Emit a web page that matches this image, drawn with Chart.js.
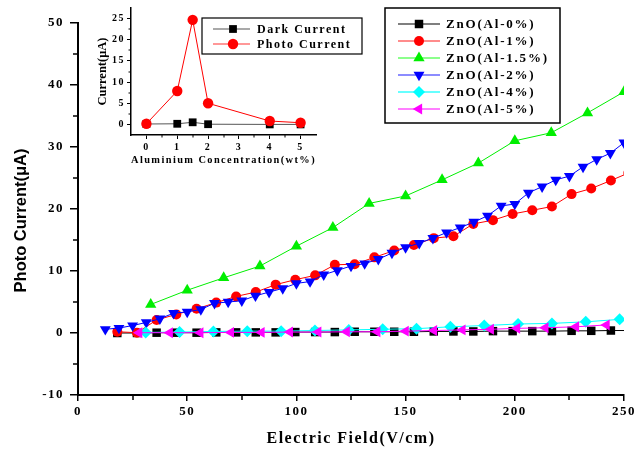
<!DOCTYPE html>
<html><head><meta charset="utf-8">
<script src="https://cdn.jsdelivr.net/npm/chart.js@4/dist/chart.umd.min.js"></script>
<style>
html,body{margin:0;padding:0;background:#fff;}
#wrap{position:relative;width:634px;height:450px;overflow:hidden;}
#main{position:absolute;left:0;top:0;}
#inset{position:absolute;left:90px;top:0;}
</style></head><body>
<div id="wrap"><canvas id="main" width="634" height="450"></canvas><canvas id="inset" width="280" height="175"></canvas></div>
<script>
// ---------- main chart data ----------
const fieldAl0   = [18,27,36,45,54.3,63.3,72.4,81.4,90.5,99.5,108.6,117.6,126.7,135.7,144.8,153.8,162.9,171.9,181,190,199,208,217,226,235,244,252];
const currentAl0 = [0,0,0.05,0.05,0.05,0.1,0.1,0.1,0.1,0.15,0.15,0.15,0.2,0.2,0.2,0.2,0.25,0.25,0.25,0.3,0.3,0.3,0.3,0.35,0.35,0.4,0.4];
const fieldAl1   = [18,27,36,45,54.3,63.3,72.4,81.4,90.5,99.5,108.6,117.6,126.7,135.7,144.8,153.8,162.9,171.9,181,190,199,208,217,226,235,244,252];
const currentAl1 = [0.2,0.05,2.1,3.0,3.9,4.9,5.9,6.6,7.8,8.6,9.3,11.0,11.1,12.2,13.3,14.2,15.3,15.6,17.6,18.2,19.2,19.8,20.4,22.4,23.3,24.6,25.8];
const fieldAl15   = [33.3,50,66.7,83.3,100,116.7,133.3,150,166.7,183.3,200,216.7,233.3,250];
const currentAl15 = [4.6,6.9,8.9,10.8,14.0,17.0,20.9,22.1,24.7,27.4,31.0,32.3,35.5,38.9];
const fieldAl2   = [12.5,18.75,25,31.25,37.5,43.75,50,56.25,62.5,68.75,75,81.25,87.5,93.75,100,106.25,112.5,118.75,125,131.25,137.5,143.75,150,156.25,162.5,168.75,175,181.25,187.5,193.75,200,206.25,212.5,218.75,225,231.25,237.5,243.75,250];
const currentAl2 = [0.6,0.8,1.2,1.7,2.3,3.2,3.4,3.8,4.8,5.0,5.2,6.0,6.6,7.2,8.0,8.3,9.4,10.1,10.8,11.2,11.9,12.9,13.8,14.5,15.3,16.2,17.0,17.9,18.9,20.5,20.8,22.6,23.6,24.7,25.3,26.8,28.0,29.0,30.7];
const fieldAl4   = [31,46.5,62,77.5,93,108.5,124,139.5,155,170.5,186,201.5,217,232.5,248];
const currentAl4 = [0.1,0.15,0.25,0.3,0.3,0.4,0.5,0.6,0.7,1.0,1.2,1.45,1.55,1.8,2.2];
const fieldAl5   = [28,42,56,70,84,97,110,123,137,150,163,176,189,201,214,228,242];
const currentAl5 = [0.05,0.05,0.05,0.1,0.1,0.15,0.15,0.2,0.2,0.3,0.4,0.5,0.6,0.75,0.85,1.0,1.3];
const seriesLabels = ['ZnO(Al-0%)','ZnO(Al-1%)','ZnO(Al-1.5%)','ZnO(Al-2%)','ZnO(Al-4%)','ZnO(Al-5%)'];
const xTicks = [0,50,100,150,200,250];
const xMinorTicks = [25,75,125,175,225];
const yTicks = [-10,0,10,20,30,40,50];
const yMinorTicks = [-5,5,15,25,35,45];

// ---------- inset data ----------
const alConcentration = [0,1,1.5,2,4,5];
const darkCurrent  = [0.1,0.15,0.5,0.05,0,0];
const photoCurrent = [0.15,7.9,24.7,5.0,0.8,0.4];
const insetLabels = ['Dark Current','Photo Current'];
const insetXTicks = [0,1,2,3,4,5];
const insetXMinorTicks = [0.5,1.5,2.5,3.5,4.5];
const insetYTicks = [0,5,10,15,20,25];
const insetYMinorTicks = [2.5,7.5,12.5,17.5,22.5];

const SERIF = '"Liberation Serif","Times New Roman",serif';
const SANS = '"Liberation Sans",Arial,sans-serif';
const pts = (xs, ys) => xs.map((x, i) => ({x, y: ys[i]}));

// ---------- plugins ----------
const spacingPlugin = {
  id: 'spacing',
  afterLayout(chart, args, o) {
    Object.keys(o.plain || {}).forEach(id => {
      const s = chart.scales[id];
      const dy = o.plain[id];
      if (s && !s._plainTitle) {
        const orig = s.drawTitle.bind(s);
        s.drawTitle = function () {
          const c = this.ctx; c.save(); c.letterSpacing = '0px'; c.translate(0, dy); orig(); c.restore();
        };
        s._plainTitle = true;
      }
    });
  },
  beforeDraw(chart, args, o) { chart.ctx.letterSpacing = o.value; }
};
const minorTicksPlugin = {
  id: 'minorTicks',
  afterDraw(chart, args, o) {
    const ctx = chart.ctx, xs = chart.scales.x, ys = chart.scales.y;
    ctx.save(); ctx.strokeStyle = '#000'; ctx.lineWidth = o.width;
    o.x.forEach(v => { const p = Math.round(xs.getPixelForValue(v)); ctx.beginPath(); ctx.moveTo(p, xs.top); ctx.lineTo(p, xs.top + o.len); ctx.stroke(); });
    o.y.forEach(v => { const p = Math.round(ys.getPixelForValue(v)); ctx.beginPath(); ctx.moveTo(ys.right, p); ctx.lineTo(ys.right - o.len, p); ctx.stroke(); });
    ctx.restore();
  }
};
const boxLegendPlugin = {
  id: 'boxLegend',
  afterDraw(chart, args, o) {
    const ctx = chart.ctx;
    ctx.save();
    ctx.fillStyle = '#fff'; ctx.fillRect(o.x, o.y, o.w, o.h);
    ctx.lineWidth = o.border; ctx.strokeStyle = '#000'; ctx.strokeRect(o.x, o.y, o.w, o.h);
    ctx.font = o.font; ctx.letterSpacing = o.spacing; ctx.textBaseline = 'middle'; ctx.textAlign = 'left';
    chart.data.datasets.forEach((ds, i) => {
      const y = o.firstY + i * o.rowH;
      ctx.strokeStyle = ds.legendLineColor || ds.borderColor; ctx.lineWidth = o.lineW;
      ctx.beginPath(); ctx.moveTo(o.lineX0, y); ctx.lineTo(o.lineX1, y); ctx.stroke();
      ctx.fillStyle = ds.pointBackgroundColor;
      Chart.helpers.drawPoint(ctx, {pointStyle: ds.pointStyle, radius: ds.pointRadius, rotation: ds.pointRotation || 0, borderWidth: 0}, o.markerX, y);
      ctx.fillStyle = '#000';
      ctx.fillText(ds.label, o.textX, y + 1);
    });
    ctx.restore();
  }
};

function axis(opts) {
  return Object.assign({
    type: 'linear',
    grid: {drawOnChartArea: false, color: '#000', lineWidth: 1.5, tickLength: opts.tickLength},
    border: {color: '#000', width: opts.borderWidth},
  }, opts.extra);
}

// ---------- main chart ----------
const mk = (i, xs, ys, color, style, radius, rotation, lineColor) => ({
  label: seriesLabels[i], data: pts(xs, ys), borderColor: color, backgroundColor: color,
  pointBackgroundColor: color, pointBorderWidth: 0, pointStyle: style, pointRadius: radius,
  pointHoverRadius: radius, pointRotation: rotation, borderWidth: 1, fill: false, tension: 0,
  order: 10 - i, legendLineColor: lineColor, clip: {left: 10, top: 10, right: 0, bottom: 10}
});

new Chart(document.getElementById('main'), {
  type: 'line',
  data: {datasets: [
    mk(0, fieldAl0, currentAl0, '#000000', 'rect', 6, 0, '#555555'),
    mk(1, fieldAl1, currentAl1, '#ff0000', 'circle', 5, 0, '#ff6666'),
    mk(2, fieldAl15, currentAl15, '#00ee00', 'triangle', 6.5, 0, '#66ff66'),
    mk(3, fieldAl2, currentAl2, '#0000ff', 'triangle', 6.3, 180, '#6666ff'),
    mk(4, fieldAl4, currentAl4, '#00ffff', 'rectRot', 6, 0, '#33ffff'),
    mk(5, fieldAl5, currentAl5, '#ff00ff', 'triangle', 6.3, -90, '#ff55ff'),
  ]},
  options: {
    responsive: false, animation: false, events: [],
    layout: {padding: {top: 23, right: 10, left: 0, bottom: 0}},
    plugins: {
      legend: {display: false}, tooltip: {enabled: false},
      spacing: {value: '1.5px', plain: {y: 11.5}},
      minorTicks: {x: xMinorTicks, y: yMinorTicks, len: 5, width: 1.5},
      boxLegend: {x: 385, y: 8, w: 175, h: 115, border: 1.5, firstY: 24, rowH: 17,
        lineX0: 398, lineX1: 440, markerX: 419, textX: 446, lineW: 1.5,
        font: 'bold 13px ' + SERIF, spacing: '1.8px'}
    },
    scales: {
      x: axis({tickLength: 6, borderWidth: 2, extra: {
        min: 0, max: 250,
        afterBuildTicks: s => { s.ticks = xTicks.map(v => ({value: v})); },
        afterFit: s => { s.height = 55; s.paddingLeft = 0; s.paddingRight = 0; },
        ticks: {color: '#000', font: {family: SERIF, weight: 'bold', size: 13}, padding: 3, maxRotation: 0, autoSkip: false},
        title: {display: true, text: 'Electric Field(V/cm)', color: '#000', font: {family: SERIF, weight: 'bold', size: 16}, padding: {top: 0, bottom: 2}}
      }}),
      y: axis({tickLength: 8, borderWidth: 2, extra: {
        min: -10, max: 50,
        afterBuildTicks: s => { s.ticks = yTicks.map(v => ({value: v})); },
        afterFit: s => { s.width = 78; },
        ticks: {color: '#000', font: {family: SERIF, weight: 'bold', size: 13}, padding: 6, autoSkip: false},
        title: {display: true, text: 'Photo Current(μA)', color: '#000', font: {family: SANS, weight: 'bold', size: 16.5}, padding: {top: 12, bottom: 0}}
      }})
    }
  },
  plugins: [spacingPlugin, minorTicksPlugin, boxLegendPlugin]
});

// ---------- inset chart ----------
new Chart(document.getElementById('inset'), {
  type: 'line',
  data: {datasets: [
    {label: insetLabels[0], data: pts(alConcentration, darkCurrent), borderColor: '#555555', backgroundColor: '#000',
     pointBackgroundColor: '#000000', pointBorderWidth: 0, pointStyle: 'rect', pointRadius: 5.5, pointHoverRadius: 5.5,
     borderWidth: 1, tension: 0, fill: false, order: 2, legendLineColor: '#555555'},
    {label: insetLabels[1], data: pts(alConcentration, photoCurrent), borderColor: '#ff0000', backgroundColor: '#ff0000',
     pointBackgroundColor: '#ff0000', pointBorderWidth: 0, pointStyle: 'circle', pointRadius: 5.2, pointHoverRadius: 5.2,
     borderWidth: 1, tension: 0, fill: false, order: 1, legendLineColor: '#ff3333'}
  ]},
  options: {
    responsive: false, animation: false, events: [],
    layout: {padding: {top: 8, right: 54, left: 0, bottom: 0}},
    plugins: {
      legend: {display: false}, tooltip: {enabled: false},
      spacing: {value: '1.5px', plain: {y: 0}},
      minorTicks: {x: insetXMinorTicks, y: insetYMinorTicks, len: 2.5, width: 1},
      boxLegend: {x: 112, y: 18, w: 160, h: 36, border: 1.2, firstY: 29, rowH: 15,
        lineX0: 123, lineX1: 160, markerX: 143, textX: 167, lineW: 1.2,
        font: 'bold 12px ' + SERIF, spacing: '1.5px'}
    },
    scales: {
      x: axis({tickLength: 4, borderWidth: 1.5, extra: {
        min: -0.5, max: 5.5,
        afterBuildTicks: s => { s.ticks = insetXTicks.map(v => ({value: v})); },
        afterFit: s => { s.height = 40; s.paddingLeft = 0; s.paddingRight = 0; },
        grid: {drawOnChartArea: false, color: '#000', lineWidth: 1, tickLength: 4},
        ticks: {color: '#000', font: {family: SERIF, weight: 'bold', size: 10}, padding: 2, maxRotation: 0, autoSkip: false},
        title: {display: true, text: 'Aluminium Concentration(wt%)', color: '#000', font: {family: SERIF, weight: 'bold', size: 11}, padding: {top: 0, bottom: 8}}
      }}),
      y: axis({tickLength: 4, borderWidth: 1.5, extra: {
        min: -2.5, max: 27.5,
        afterBuildTicks: s => { s.ticks = insetYTicks.map(v => ({value: v})); },
        afterFit: s => { s.width = 41; },
        grid: {drawOnChartArea: false, color: '#000', lineWidth: 1, tickLength: 4},
        ticks: {color: '#000', font: {family: SERIF, weight: 'bold', size: 10}, padding: 2, autoSkip: false},
        title: {display: true, text: 'Current(μA)', color: '#000', font: {family: SERIF, weight: 'bold', size: 12.5}, padding: {top: 5, bottom: 0}}
      }})
    }
  },
  plugins: [spacingPlugin, minorTicksPlugin, boxLegendPlugin]
});
</script>
</body></html>
